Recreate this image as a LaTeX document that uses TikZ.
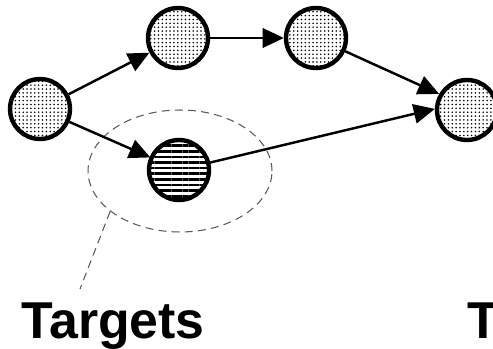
\documentclass[tikz,border=0pt]{standalone}
\usepackage{fontspec}
\setmainfont{Liberation Sans}
\usetikzlibrary{arrows.meta,patterns.meta,shapes.geometric}

\tikzset{
  state/.style={circle, draw, line width=2.5pt, minimum size=1.2cm, inner sep=0pt,
    pattern={Dots[distance=2.2pt,radius=0.5pt]}},
  target/.style={circle, draw, line width=2.5pt, minimum size=1.2cm, inner sep=0pt,
    pattern={Lines[angle=0,distance=3.2pt,line width=1.5pt]}},
  link/.style={line width=1.4pt, -{Triangle[length=12pt,width=11pt]}},
  group/.style={ellipse, draw=black!65, dash pattern=on 4.5pt off 3pt, line width=0.6pt},
}

\begin{document}
\begin{tikzpicture}[x=0.02cm,y=-0.02cm]
      \clip (0,0) rectangle (493,348);

      % Target group
      \node[group, minimum width=3.68cm, minimum height=2.44cm] (grp) at (180,171) {};

      % States
      \node[state] (s0) at (40,109) {};
      \node[state] (s1) at (178,38) {};
      \node[state] (s2) at (316,38) {};
      \node[state] (s3) at (467,110) {};
      \node[target] (tg) at (179,170) {};

      % Transitions
      \draw[link] (s0) -- (s1);
      \draw[link] (s0) -- (tg);
      \draw[link] (s1) -- (s2);
      \draw[link] (s2) -- (s3.150);
      \draw[link] (tg) -- (s3.178);

      % Labels
      \node[anchor=base west, inner sep=0pt, font=\bfseries\fontsize{29.5}{31}\selectfont] (lbl) at (21,338) {Targets};
      \node[anchor=base west, inner sep=0pt, font=\bfseries\fontsize{29.5}{31}\selectfont] (lbl2) at (467,338) {T};
      \coordinate (tip) at (80,289);
      \draw[black!65, dash pattern=on 4.5pt off 3pt, line width=0.6pt] (grp.210) -- (tip);
    \end{tikzpicture}
\end{document}
